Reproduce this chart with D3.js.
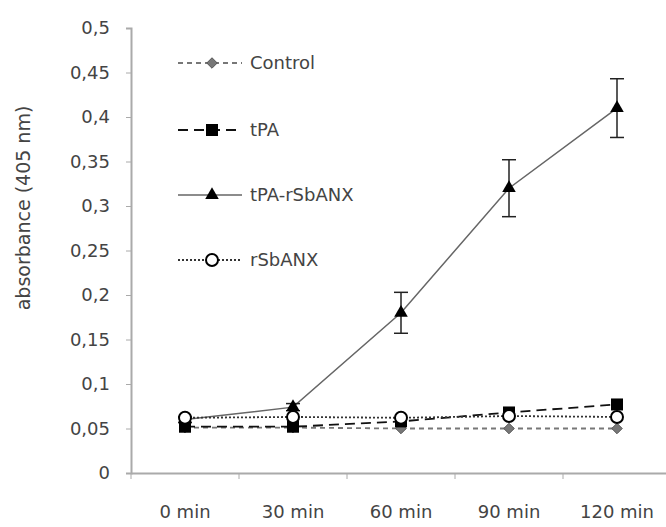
<!DOCTYPE html>
<html>
<head>
<meta charset="utf-8">
<script src="https://cdn.jsdelivr.net/npm/d3@7"></script>
<style>
  body { margin: 0; background: #fff; }
  text { font-family: "DejaVu Sans", sans-serif; fill: #444; }
</style>
</head>
<body>
<svg id="chart" width="666" height="527"></svg>
<script>
let categories = ["0 min", "30 min", "60 min", "90 min", "120 min"]
let control = [0.051, 0.051, 0.05, 0.05, 0.05]
let tpa = [0.052, 0.052, 0.058, 0.068, 0.077]
let tpaRsbanx = [0.06, 0.074, 0.18, 0.32, 0.41]
let tpaRsbanxErr = [0.003, 0.004, 0.023, 0.032, 0.033]
let rsbanx = [0.062, 0.063, 0.062, 0.064, 0.063]
let yTicks = [0, 0.05, 0.1, 0.15, 0.2, 0.25, 0.3, 0.35, 0.4, 0.45, 0.5]

let svg = d3.select("#chart")

let plotLeft = 131, plotRight = 671, plotTop = 28, plotBottom = 473

let x = d3.scaleBand()
    .domain(categories)
    .range([plotLeft, plotRight])

let y = d3.scaleLinear()
    .domain([0, 0.5])
    .range([plotBottom, plotTop])

let fmt = function(d) { return String(d).replace(".", ",") }

// y axis
let yAxis = svg.append("g")
    .attr("transform", `translate(${plotLeft}, 0)`)
    .call(d3.axisLeft(y).tickValues(yTicks).tickFormat(fmt).tickSize(5).tickPadding(16))
yAxis.select(".domain").attr("stroke", "#aaa").attr("stroke-width", 2)
yAxis.selectAll(".tick line").attr("stroke", "#aaa")
yAxis.selectAll("text").style("font-size", "18px").attr("fill", "#444")

// x axis
let xAxis = svg.append("g")
    .attr("transform", `translate(0, ${plotBottom})`)
    .call(d3.axisBottom(x).tickSize(0).tickPadding(32))
xAxis.select(".domain").attr("stroke", "#aaa").attr("stroke-width", 2)
xAxis.selectAll("text").style("font-size", "18px").attr("fill", "#444")

// tick marks between categories
svg.append("g")
    .selectAll("line")
    .data(categories)
    .join("line")
    .attr("x1", function(d) { return x(d) })
    .attr("x2", function(d) { return x(d) })
    .attr("y1", plotBottom)
    .attr("y2", plotBottom + 6)
    .attr("stroke", "#aaa")

svg.append("text")
    .attr("transform", "translate(30, 208) rotate(-90)")
    .attr("text-anchor", "middle")
    .style("font-size", "19px")
    .text("absorbance (405 nm)")

let cx = function(i) { return x(categories[i]) + x.bandwidth() / 2 }

let series = [
    {name: "Control", values: control, stroke: "#777", dash: "5,4", marker: "diamond"},
    {name: "tPA", values: tpa, stroke: "#111", dash: "10,6", marker: "square"},
    {name: "tPA-rSbANX", values: tpaRsbanx, stroke: "#666", dash: null, marker: "triangle"},
    {name: "rSbANX", values: rsbanx, stroke: "#333", dash: "2,2", marker: "circle"}
]

let line = d3.line()
    .x(function(d, i) { return cx(i) })
    .y(function(d) { return y(d) })

function drawMarker(g, type, px, py) {
    if (type == "diamond") {
        g.append("path")
            .attr("d", d3.symbol(d3.symbolDiamond2, 70)())
            .attr("transform", `translate(${px}, ${py})`)
            .attr("fill", "#777").attr("stroke", "#555")
    } else if (type == "square") {
        g.append("rect")
            .attr("x", px - 6).attr("y", py - 6)
            .attr("width", 12).attr("height", 12)
            .attr("fill", "#000")
    } else if (type == "triangle") {
        g.append("path")
            .attr("d", d3.symbol(d3.symbolTriangle, 80)())
            .attr("transform", `translate(${px}, ${py})`)
            .attr("fill", "#000")
    } else {
        g.append("circle")
            .attr("cx", px).attr("cy", py).attr("r", 6)
            .attr("fill", "#fff").attr("stroke", "#000").attr("stroke-width", 2)
    }
}

// lines
series.forEach(function(s) {
    svg.append("path")
        .datum(s.values)
        .attr("fill", "none")
        .attr("stroke", s.stroke)
        .attr("stroke-width", s.dash ? 1.8 : 1.5)
        .attr("stroke-dasharray", s.dash)
        .attr("d", line)
})

// error bars for tPA-rSbANX
let errG = svg.append("g").attr("stroke", "#222").attr("stroke-width", 1.5)
tpaRsbanx.forEach(function(v, i) {
    let e = tpaRsbanxErr[i]
    errG.append("line")
        .attr("x1", cx(i)).attr("x2", cx(i))
        .attr("y1", y(v + e)).attr("y2", y(v - e))
    ;[v + e, v - e].forEach(function(t) {
        errG.append("line")
            .attr("x1", cx(i) - 7).attr("x2", cx(i) + 7)
            .attr("y1", y(t)).attr("y2", y(t))
    })
})

// markers
series.forEach(function(s) {
    let g = svg.append("g")
    s.values.forEach(function(v, i) { drawMarker(g, s.marker, cx(i), y(v)) })
})

// legend
let legendY = [63, 130, 195, 260]
series.forEach(function(s, i) {
    let g = svg.append("g").attr("transform", `translate(0, ${legendY[i]})`)
    g.append("line")
        .attr("x1", 178).attr("x2", 242)
        .attr("stroke", s.stroke)
        .attr("stroke-width", s.dash ? 1.8 : 1.5)
        .attr("stroke-dasharray", s.dash)
    drawMarker(g, s.marker, 212, 0)
    g.append("text")
        .attr("x", 250)
        .attr("dy", "0.35em")
        .style("font-size", "18px")
        .text(s.name)
})
</script>
</body>
</html>
